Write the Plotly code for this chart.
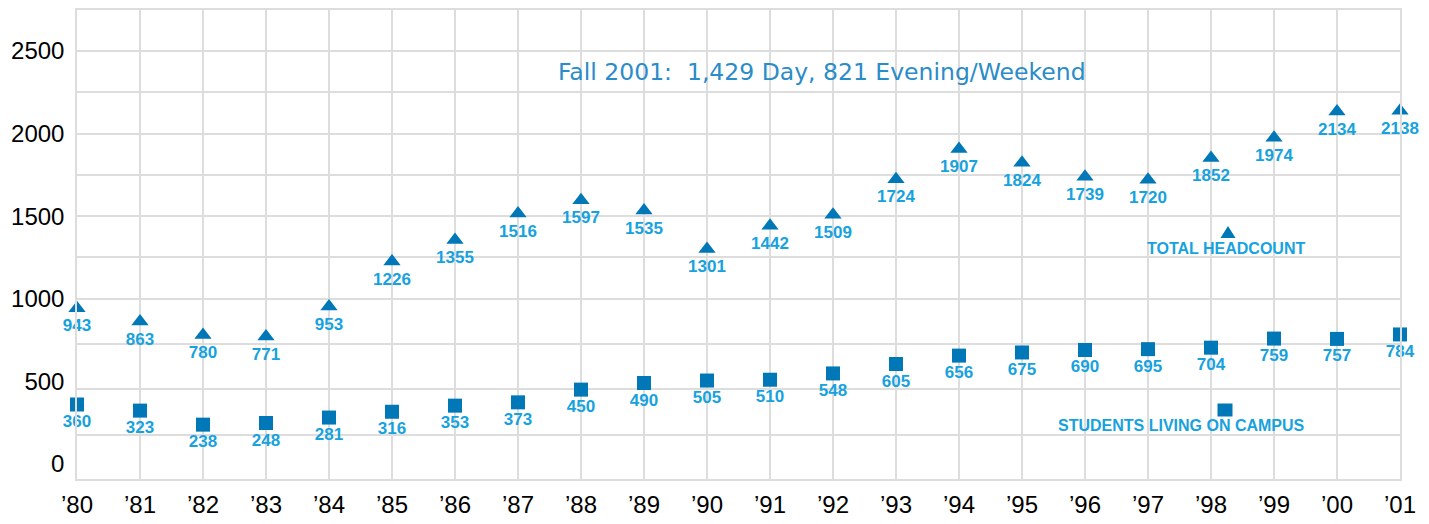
import plotly.graph_objects as go

years = ["’80", "’81", "’82", "’83", "’84", "’85", "’86", "’87", "’88", "’89", "’90",
         "’91", "’92", "’93", "’94", "’95", "’96", "’97", "’98", "’99", "’00", "’01"]
total_headcount = [943, 863, 780, 771, 953, 1226, 1355, 1516, 1597, 1535, 1301,
                   1442, 1509, 1724, 1907, 1824, 1739, 1720, 1852, 1974, 2134, 2138]
on_campus = [360, 323, 238, 248, 281, 316, 353, 373, 450, 490, 505,
             510, 548, 605, 656, 675, 690, 695, 704, 759, 757, 784]
y_ticks = [0, 500, 1000, 1500, 2000, 2500]
grid_vals = [175, 455, 725, 1000, 1250, 1500, 1750, 2000, 2250, 2500]

MARK = "#0077B6"
TXT = "#17A2DE"
GRID = "#DDDDDD"

fig = go.Figure()
fig.add_trace(go.Scatter(
    x=years, y=total_headcount, mode="markers+text",
    marker=dict(symbol="triangle-up", size=15, color=MARK),
    text=[str(v) for v in total_headcount], textposition="bottom center",
    textfont=dict(family="Liberation Sans, Arial", size=17, color=TXT, weight="bold"),
    cliponaxis=False, showlegend=False, name="TOTAL HEADCOUNT"))
fig.add_trace(go.Scatter(
    x=years, y=on_campus, mode="markers+text",
    marker=dict(symbol="square", size=14, color=MARK),
    text=[str(v) for v in on_campus], textposition="bottom center",
    textfont=dict(family="Liberation Sans, Arial", size=17, color=TXT, weight="bold"),
    cliponaxis=False, showlegend=False, name="STUDENTS LIVING ON CAMPUS"))

L, R, T, B = 77, 1400, 10, 479
W, H = R - L, B - T
def px(x):
    return (x - L) / W
def py(y):
    return (B - y) / H

# legend symbols
tri_cx, tri_top, tri_base = 1228, 226, 238
sq_x0, sq_x1, sq_y0, sq_y1 = 1217.5, 1232.5, 403.5, 416.5
fig.add_shape(type="path", xref="paper", yref="paper",
              path=f"M {px(tri_cx-7.5)},{py(tri_base)} L {px(tri_cx+7.5)},{py(tri_base)} L {px(tri_cx)},{py(tri_top)} Z",
              fillcolor=MARK, line=dict(width=0))
fig.add_shape(type="rect", xref="paper", yref="paper",
              x0=px(sq_x0), x1=px(sq_x1), y0=py(sq_y1), y1=py(sq_y0),
              fillcolor=MARK, line=dict(width=0))

fig.add_annotation(xref="paper", yref="paper", x=px(1307), y=py(248), xanchor="right", yanchor="middle",
                   text="TOTAL HEADCOUNT", showarrow=False,
                   font=dict(family="Liberation Sans, Arial", size=16, color=TXT, weight="bold"))
fig.add_annotation(xref="paper", yref="paper", x=px(1307), y=py(425), xanchor="right", yanchor="middle",
                   text="STUDENTS LIVING ON CAMPUS", showarrow=False,
                   font=dict(family="Liberation Sans, Arial", size=16, color=TXT, weight="bold"))
fig.add_annotation(xref="paper", yref="paper", x=px(822), y=py(72), xanchor="center", yanchor="middle",
                   text="Fall 2001:  1,429 Day, 821 Evening/Weekend", showarrow=False,
                   font=dict(family="DejaVu Sans", size=23.5, color="#2A8CC8"))

fig.update_layout(
    width=1429, height=524,
    margin=dict(l=L, r=1429 - R, t=T, b=524 - B),
    paper_bgcolor="white", plot_bgcolor="white",
    font=dict(family="Liberation Sans, Arial", size=24, color="black"),
)
fig.update_xaxes(
    type="category", categoryorder="array", categoryarray=years,
    range=[0, 21], showgrid=True, gridcolor=GRID, gridwidth=1.5,
    showline=True, linecolor=GRID, linewidth=1.5, mirror=True,
    ticks="", ticklabelstandoff=3, zeroline=False, automargin=False,
    tickfont=dict(size=24, color="black"))
fig.update_yaxes(
    range=[-91, 2748], tickvals=y_ticks, ticktext=[str(v) for v in y_ticks],
    showgrid=False, zeroline=False, automargin=False,
    showline=True, linecolor=GRID, linewidth=1.5, mirror=True,
    ticks="", ticklabelstandoff=6,
    minor=dict(tickvals=grid_vals, showgrid=True, gridcolor=GRID, gridwidth=1.5, ticks=""),
    tickfont=dict(size=24, color="black"))

fig.write_html("out.html", post_script="document.body.style.margin='0';",
               config={"displayModeBar": False})
